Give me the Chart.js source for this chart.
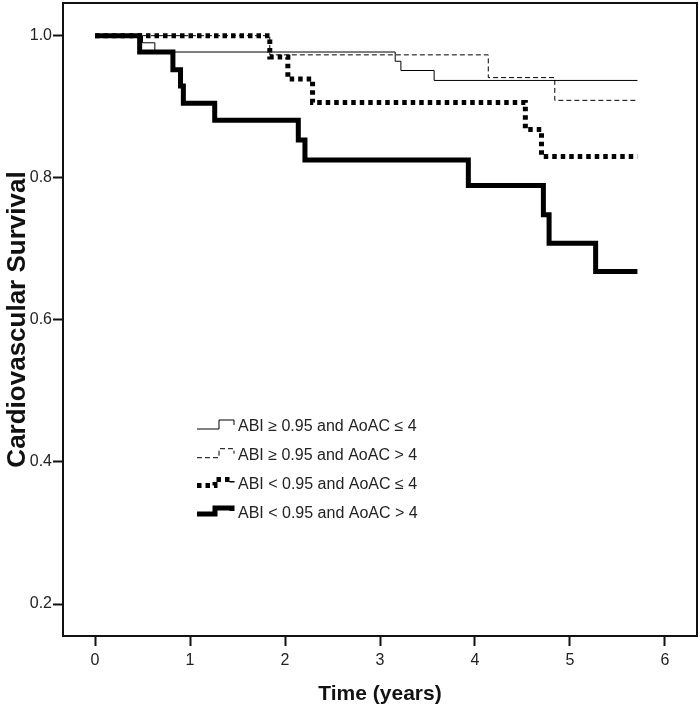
<!DOCTYPE html>
<html>
<head>
<meta charset="utf-8">
<script src="https://cdn.jsdelivr.net/npm/chart.js@4"></script>
<style>
  body { margin: 0; background: #fff; }
  #wrap { width: 700px; height: 711px; position: relative; }
</style>
</head>
<body>
<div id="wrap"><canvas id="chart"></canvas></div>
<script>
// Kaplan-Meier steps (time in years, survival)
const labels = [
    'ABI \u2265 0.95 and AoAC \u2264 4',
    'ABI \u2265 0.95 and AoAC > 4',
    'ABI < 0.95 and AoAC \u2264 4',
    'ABI < 0.95 and AoAC > 4'
];

const t1 = [0, 0.50, 0.63, 3.16, 3.22, 3.57, 5.71];
const s1 = [1, 0.990, 0.977, 0.964, 0.951, 0.937, 0.937];

const t2 = [0, 1.84, 4.14, 4.84, 5.71];
const s2 = [1, 0.973, 0.941, 0.909, 0.909];

const t3 = [0, 1.84, 2.03, 2.29, 4.53, 4.70, 5.71];
const s3 = [1, 0.970, 0.939, 0.906, 0.868, 0.830, 0.830];

const t4 = [0, 0.47, 0.82, 0.90, 0.93, 1.26, 2.14, 2.21, 3.93, 4.72, 4.78, 5.27, 5.71];
const s4 = [1, 0.977, 0.952, 0.929, 0.905, 0.881, 0.853, 0.825, 0.789, 0.748, 0.708, 0.668, 0.668];

const xTicks = [0, 1, 2, 3, 4, 5, 6];
const yTicks = [0.2, 0.4, 0.6, 0.8, 1.0];

const FONT = "'Liberation Sans', Arial, sans-serif";

function pts(t, s) {
    return t.map((x, i) => ({ x: x, y: s[i] }));
}

function line(label, t, s, width, dash) {
    return {
        label: label,
        data: pts(t, s),
        borderColor: '#000',
        borderWidth: width,
        borderDash: dash,
        borderCapStyle: 'butt',
        borderJoinStyle: 'miter',
        stepped: 'before',
        pointRadius: 0,
        fill: false
    };
}

// Frame around plot + the step-style legend inside the plot
const framePlugin = {
    id: 'frame',
    afterDraw(chart) {
        const { ctx, chartArea: a } = chart;
        ctx.save();
        ctx.strokeStyle = '#111';
        ctx.lineWidth = 2;
        ctx.setLineDash([]);
        ctx.strokeRect(a.left, a.top, a.right - a.left, a.bottom - a.top);

        ctx.font = '16px ' + FONT;
        ctx.textBaseline = 'middle';
        ctx.textAlign = 'left';
        chart.data.datasets.forEach((ds, i) => {
            const c = 427 + i * 28.7;
            const thick = ds.borderWidth > 2;
            ctx.strokeStyle = '#000';
            ctx.lineWidth = ds.borderWidth;
            ctx.setLineDash(ds.borderDash || []);
            ctx.beginPath();
            ctx.moveTo(197, c + (thick ? 1 : 2));
            ctx.lineTo(thick ? 215 : 219, c + (thick ? 1 : 2));
            ctx.lineTo(thick ? 215 : 219, c - (thick ? 5 : 7));
            ctx.lineTo(thick ? 232 : 234, c - (thick ? 5 : 7));
            ctx.lineTo(thick ? 232 : 234, c - 2);
            ctx.stroke();
            ctx.fillStyle = '#222';
            ctx.fillText(ds.label, 238, c);
        });
        ctx.restore();
    }
};

const ctx = document.getElementById('chart').getContext('2d');
const chart = new Chart(ctx, {
    type: 'line',
    data: {
        datasets: [
            line(labels[0], t1, s1, 1, []),
            line(labels[1], t2, s2, 1, [5, 3]),
            line(labels[2], t3, s3, 5, [4.5, 4]),
            line(labels[3], t4, s4, 5, [])
        ]
    },
    options: {
        responsive: true,
        maintainAspectRatio: false,
        animation: false,
        layout: { padding: { left: 0, top: 3, right: 3, bottom: 0 } },
        plugins: {
            legend: { display: false },
            tooltip: { enabled: false }
        },
        scales: {
            x: {
                type: 'linear',
                min: -0.337,
                max: 6.337,
                afterBuildTicks: s => { s.ticks = xTicks.map(v => ({ value: v })); },
                afterFit: s => { s.height = 75; s.paddingLeft = 0; s.paddingRight = 0; },
                border: { display: false },
                grid: {
                    drawOnChartArea: false,
                    drawTicks: true,
                    tickLength: 10,
                    tickWidth: 2,
                    tickColor: '#111'
                },
                ticks: {
                    color: '#222',
                    padding: 5,
                    maxRotation: 0,
                    font: { family: FONT, size: 16 },
                    callback: v => String(v)
                },
                title: {
                    display: true,
                    text: 'Time (years)',
                    color: '#111',
                    padding: { top: 0, bottom: 4 },
                    font: { family: FONT, size: 21, weight: 'bold' }
                }
            },
            y: {
                type: 'linear',
                min: 0.155,
                max: 1.046,
                afterBuildTicks: s => { s.ticks = yTicks.map(v => ({ value: v })); },
                afterFit: s => { s.width = 63; s.paddingTop = 0; s.paddingBottom = 0; },
                border: { display: false },
                grid: {
                    drawOnChartArea: false,
                    drawTicks: true,
                    tickLength: 10,
                    tickWidth: 2,
                    tickColor: '#111'
                },
                ticks: {
                    color: '#222',
                    padding: 1,
                    font: { family: FONT, size: 16 },
                    callback: v => v.toFixed(1)
                },
                title: {
                    display: true,
                    text: 'Cardiovascular Survival',
                    color: '#111',
                    padding: { top: 2, bottom: 0 },
                    font: { family: FONT, size: 26, weight: 'bold' }
                }
            }
        }
    },
    plugins: [framePlugin]
});
</script>
</body>
</html>
